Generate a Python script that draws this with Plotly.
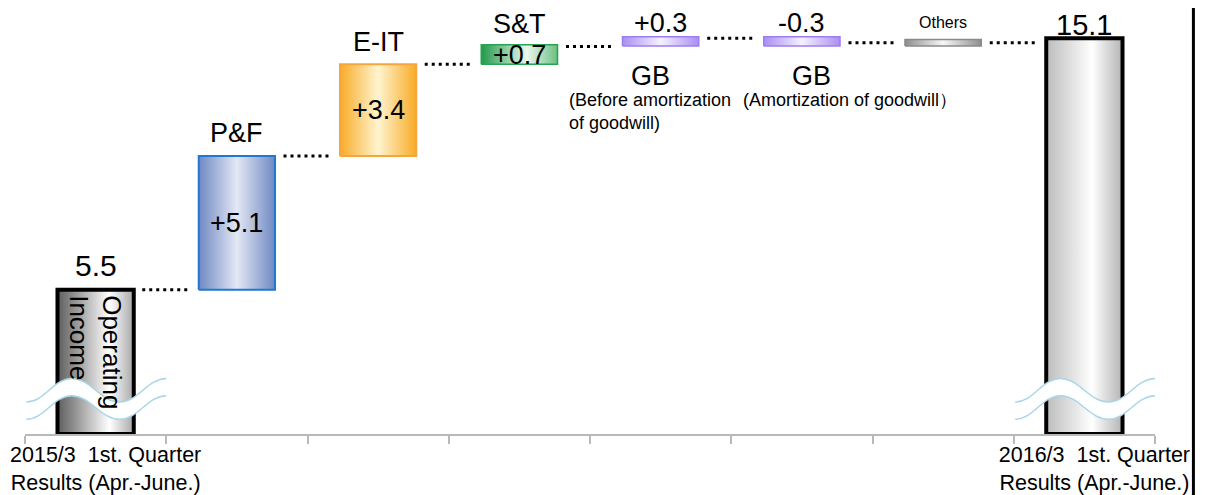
import plotly.graph_objects as go

# ---------------- data ----------------
categories = ["2015/3 Q1", "P&F", "E-IT", "S&T", "GB before amortization",
              "GB amortization", "Others", "2016/3 Q1"]
bar_bottom = [0.0, 5.5, 10.6, 14.1, 14.8, 14.8, 14.8, 0.0]
bar_top = [5.5, 10.6, 14.1, 14.85, 15.15, 15.15, 15.05, 15.1]
connector_level = [5.5, 10.6, 14.1, 14.78, 15.1, 14.92, 14.92]
tick_labels = ["2015/3  1st. Quarter<br>Results (Apr.-June.)",
               "2016/3  1st. Quarter<br>Results (Apr.-June.)"]
above_text = ["5.5", "P&F", "E-IT", "S&T", "+0.3", "-0.3", "Others", "15.1"]
inside_text = ["Operating<br>Income", "+5.1", "+3.4", "+0.7", "", "", "", ""]
below_text = ["", "", "", "", "GB", "GB", "", ""]
note_text = ["", "", "", "", "(Before amortization<br>of goodwill)",
             "(Amortization of goodwill）", "", ""]

# ---------------- styles ----------------
FONT = "Liberation Sans, Arial, sans-serif"
fill_scales = [
    [[0, "#5e5e5e"], [0.2, "#8c8c8c"], [0.68, "#ffffff"], [1, "#a8a8a8"]],
    [[0, "#7088c3"], [0.5, "#e3e8f4"], [1, "#7088c3"]],
    [[0, "#f8ab27"], [0.5, "#fff4cf"], [1, "#f8ab27"]],
    [[0, "#22994a"], [0.6, "#eaf6ec"], [1, "#6cc083"]],
    [[0, "#aa8ef2"], [0.5, "#f5f1ff"], [1, "#aa8ef2"]],
    [[0, "#aa8ef2"], [0.5, "#f5f1ff"], [1, "#aa8ef2"]],
    [[0, "#8e8e8e"], [0.5, "#f7f7f7"], [1, "#8e8e8e"]],
    [[0, "#bcbcbc"], [0.6, "#ffffff"], [1, "#b4b4b4"]],
]
border_colors = ["#000000", "#1f78d1", "#f6a53c", "#27a452", "#9d7df2",
                 "#9d7df2", "#8a8a8a", "#000000"]
border_widths = [4, 2, 2, 1.5, 1.5, 1.5, 1.5, 4]
above_sizes = [30, 27, 27, 27, 27, 27, 16, 29]
above_shift = [6, 6, 5, 4, -3, -3, 6, -5]
below_shift_x = [0, 0, 0, 0, -10, 10, 0, 0]
HALF_W = 0.27
GAP = 0.06
YMAX = 16.25
break_cats = [0, 7]

fig = go.Figure()

# bars (gradient filled rectangles on the data axes)
for i in range(len(categories)):
    b, t = bar_bottom[i], bar_top[i]
    fig.add_trace(go.Scatter(
        x=[i - HALF_W, i + HALF_W, i + HALF_W, i - HALF_W, i - HALF_W],
        y=[b, b, t, t, b],
        mode="lines", fill="toself",
        fillgradient=dict(type="horizontal", colorscale=fill_scales[i]),
        line=dict(color=border_colors[i], width=border_widths[i]),
        hoverinfo="skip", showlegend=False))

# dotted connectors
for i, lvl in enumerate(connector_level):
    fig.add_trace(go.Scatter(
        x=[i + HALF_W + GAP, i + 1 - HALF_W - GAP], y=[lvl, lvl],
        mode="lines", line=dict(color="black", width=3, dash="3px,4px"),
        hoverinfo="skip", showlegend=False))

annotations = []
for i in range(len(categories)):
    if above_text[i]:
        annotations.append(dict(x=i, y=bar_top[i], text=above_text[i],
                                showarrow=False, yanchor="bottom", yshift=above_shift[i],
                                font=dict(family=FONT, size=above_sizes[i], color="black")))
    if inside_text[i]:
        if i == 0:
            annotations.append(dict(x=i, y=bar_top[i], text=inside_text[i],
                                    showarrow=False, textangle=90, align="left",
                                    xanchor="center", yanchor="top", yshift=-3,
                                    font=dict(family=FONT, size=26, color="black")))
        else:
            annotations.append(dict(x=i, y=(bar_top[i] + bar_bottom[i]) / 2,
                                    text=inside_text[i], showarrow=False,
                                    yanchor="middle",
                                    font=dict(family=FONT, size=27, color="black")))
    if below_text[i]:
        annotations.append(dict(x=i, y=bar_bottom[i], text=below_text[i],
                                showarrow=False, yanchor="top", yshift=-13,
                                xshift=below_shift_x[i],
                                font=dict(family=FONT, size=27, color="black")))
    if note_text[i]:
        annotations.append(dict(x=i - 0.66 if i == 4 else i + 0.34, y=bar_bottom[i],
                                text=note_text[i], showarrow=False,
                                xanchor="left" if i == 4 else "center",
                                align="left", yanchor="top", yshift=-42,
                                font=dict(family=FONT, size=18, color="black")))

# axis-break symbols
def wave(xs, ys, move=True):
    k = 0.4
    d = "M %.3f,%.3f" % (xs[0], ys[0]) if move else ""
    for j in range(1, len(xs)):
        dx = xs[j] - xs[j - 1]
        d += " C %.3f,%.3f %.3f,%.3f %.3f,%.3f" % (xs[j - 1] + k * dx, ys[j - 1],
                                                  xs[j] - k * dx, ys[j], xs[j], ys[j])
    return d

shapes = []
for c in break_cats:
    xs = [c - 0.49, c - 0.17, c + 0.17, c + 0.5]
    up = [1.22, 2.12, 1.22, 2.12]
    lo = [v - 0.66 for v in up]
    band = wave(xs, up) + " L %.3f,%.3f" % (xs[-1], lo[-1])
    band += wave(xs[::-1], lo[::-1], move=False) + " Z"
    shapes.append(dict(type="path", path=band, xref="x", yref="y", layer="above",
                       fillcolor="white", line=dict(width=0)))
    for ys in (up, lo):
        shapes.append(dict(type="path", path=wave(xs, ys), xref="x", yref="y",
                           layer="above", line=dict(color="#a9d6e6", width=1.5)))

# right border line
shapes.append(dict(type="line", xref="paper", yref="paper", x0=1.034, x1=1.034,
                   y0=-0.2, y1=1.05, line=dict(color="black", width=3)))

fig.update_layout(
    width=1197, height=487,
    margin=dict(l=17, r=50, t=0, b=58),
    paper_bgcolor="white", plot_bgcolor="white",
    showlegend=False,
    annotations=annotations, shapes=shapes,
    xaxis=dict(range=[-0.5, len(categories) - 0.5], showgrid=False, zeroline=False,
               showline=True, linecolor="#b9b9b9", linewidth=1.5,
               tickmode="array", tickvals=[0, len(categories) - 1], ticktext=tick_labels,
               ticks="", ticklabelshift=10, ticklabeloverflow="allow",
               tickfont=dict(family=FONT, size=21.5, color="black"),
               minor=dict(tickmode="array",
                          tickvals=[i - 0.5 for i in range(len(categories) + 1)],
                          ticks="outside", ticklen=8, tickcolor="#b9b9b9",
                          tickwidth=1.5, showgrid=False),
               fixedrange=True),
    yaxis=dict(range=[0, YMAX], visible=False, fixedrange=True),
)

fig.write_html("out.html")
